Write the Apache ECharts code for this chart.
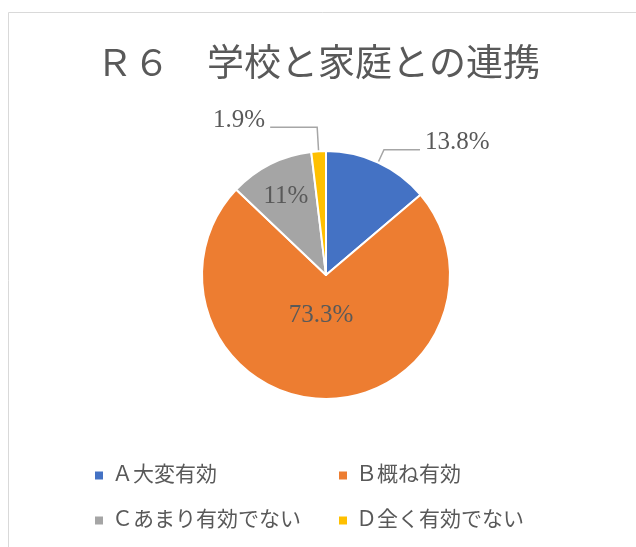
<!DOCTYPE html>
<html><head><meta charset="utf-8">
<script src="https://cdn.jsdelivr.net/npm/echarts@6/dist/echarts.min.js"></script>
<style>html,body{margin:0;padding:0;background:#fff}#c{width:636px;height:547px}</style>
</head><body><div id="c"></div>
<script>
const titleText = 'Ｒ６　学校と家庭との連携';
const categories = ['Ａ大変有効', 'Ｂ概ね有効', 'Ｃあまり有効でない', 'Ｄ全く有効でない'];
const values = [13.8, 73.3, 11, 1.9];
const colors = ['#4472C4', '#ED7D31', '#A5A5A5', '#FFC000'];
const labelPlacement = ['outside', 'inside', 'inside', 'outside'];

const FONT = '"Liberation Serif", "Noto Sans CJK JP", serif';
const TXT = '#595959';
const lineLen = [[14, 36], null, null, [24, 47]];
const chart = echarts.init(document.getElementById('c'), null, {renderer: 'canvas'});
const data = categories.map((n, i) => ({
  name: n, value: values[i],
  itemStyle: {color: colors[i]},
  label: {position: labelPlacement[i]},
  labelLine: lineLen[i] ? {show: true, length: lineLen[i][0], length2: lineLen[i][1]} : {show: false}
}));
const legendText = {fontFamily: FONT, fontSize: 21, color: TXT, padding: [0, 0, 0, 3]};
chart.setOption({
  animation: false,
  graphic: [{type: 'rect', shape: {x: 8.5, y: 12.5, width: 640, height: 560}, style: {fill: 'none', stroke: '#D9D9D9', lineWidth: 1}}],
  title: {text: titleText, left: 'center', top: 43, textStyle: {fontFamily: FONT, fontSize: 37, fontWeight: 'normal', color: TXT}},
  legend: [
    {data: [categories[0], categories[2]], orient: 'vertical', left: 88, top: 460, itemGap: 24, icon: 'rect', itemWidth: 10, itemHeight: 10,
     textStyle: legendText},
    {data: [categories[1], categories[3]], orient: 'vertical', left: 332, top: 460, itemGap: 24, icon: 'rect', itemWidth: 10, itemHeight: 10,
     textStyle: legendText}
  ],
  series: [{
    type: 'pie', center: [326, 275], radius: [0, 124], startAngle: 90, clockwise: true,
    itemStyle: {borderColor: '#fff', borderWidth: 2},
    label: {fontFamily: FONT, fontSize: 25, color: TXT,
      formatter: p => (labelPlacement[p.dataIndex] === 'outside' ? '{t|' + p.value + '%}\n{s|}' : p.value + '%'),
      rich: {t: {fontFamily: FONT, fontSize: 25, color: TXT, height: 28}, s: {height: 14, fontSize: 1}}},
    labelLine: {lineStyle: {color: '#A6A6A6', width: 1.5}},
    labelLayout: p => {
      if (p.dataIndex === 1) return {dx: -3, dy: -25};
      if (p.dataIndex === 2) return {dx: -11, dy: -20};
      return {};
    },
    data: data
  }]
});
</script></body></html>
